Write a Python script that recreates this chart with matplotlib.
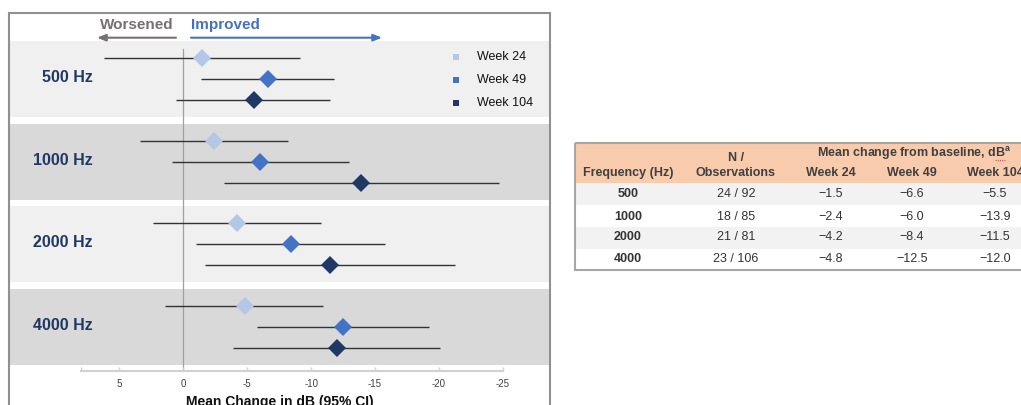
import matplotlib
matplotlib.use("Agg")
import matplotlib.pyplot as plt
from matplotlib.patches import Rectangle
from matplotlib.lines import Line2D

plt.rcParams['font.family'] = ['Liberation Sans', 'DejaVu Sans']
plt.rcParams['axes.unicode_minus'] = False
plt.rcParams['mathtext.fontset'] = 'custom'
plt.rcParams['mathtext.rm'] = 'Liberation Sans'
plt.rcParams['mathtext.bf'] = 'Liberation Sans:bold'

# data
freq_labels = ["500 Hz", "1000 Hz", "2000 Hz", "4000 Hz"]
frequencies = [500, 1000, 2000, 4000]
week_labels = ["Week 24", "Week 49", "Week 104"]
week_colors = ["#b4c7e7", "#4472c4", "#203864"]

week24 = [-1.5, -2.4, -4.2, -4.8]
week49 = [-6.6, -6.0, -8.4, -12.5]
week104 = [-5.5, -13.9, -11.5, -12.0]

week24_hi = [6.2, 3.4, 2.4, 1.4]
week24_lo = [-9.1, -8.2, -10.8, -10.9]
week49_hi = [-1.4, 0.9, -1.0, -5.8]
week49_lo = [-11.8, -13.0, -15.8, -19.2]
week104_hi = [0.6, -3.2, -1.7, -3.9]
week104_lo = [-11.5, -24.7, -21.3, -20.1]

n_patients = [24, 18, 21, 23]
n_obs = [92, 85, 81, 106]

x_ticks = [5, 0, -5, -10, -15, -20, -25]

means = [week24, week49, week104]
ci_hi = [week24_hi, week49_hi, week104_hi]
ci_lo = [week24_lo, week49_lo, week104_lo]

W, H = 1021, 405


def fx(x):
    return x / W


def fy(y):
    return 1 - y / H


fig = plt.figure(figsize=(W / 100, H / 100), dpi=100)

# outer panel frame
fig.add_artist(Rectangle((fx(9), fy(420)), (550 - 9) / W, (420 - 12.7) / H,
                         transform=fig.transFigure, fill=False,
                         edgecolor="#909090", lw=1.5))

ax = fig.add_axes([fx(9), fy(365), (549 - 9) / W, (365 - 41) / H])
ax.set_xlim(13.64, -28.62)
ax.set_ylim(3.458, -0.459)

band_colors = ["#f0f0f0", "#d9d9d9"]
for i in range(len(freq_labels)):
    ax.axhspan(i - 0.46, i + 0.46, color=band_colors[i % 2], lw=0, zorder=0)

ax.plot([0, 0], [-0.363, 3.53], color="#a0a0a0", lw=0.9, clip_on=False, zorder=1)

row_step = 0.254
for j in range(len(week_labels)):
    ys = [i + (j - 1) * row_step for i in range(len(freq_labels))]
    ax.hlines(ys, ci_lo[j], ci_hi[j], color="#333333", lw=1.0, zorder=2)
    ax.plot(means[j], ys, linestyle="none", marker="D", markersize=9.2,
            markeredgewidth=0, color=week_colors[j], zorder=3)

for i, lab in enumerate(freq_labels):
    ax.text(0.1556, i - 0.02, lab, transform=ax.get_yaxis_transform(),
            ha="right", va="center", fontsize=11.5, fontweight="bold",
            color="#1f3864")

for s in ["top", "right", "left"]:
    ax.spines[s].set_visible(False)
ax.spines["bottom"].set_position(("outward", 4.3))
ax.spines["bottom"].set_bounds(8, -25)
ax.spines["bottom"].set_color("#d0d0d0")
ax.spines["bottom"].set_linewidth(1.5)
ax.set_yticks([])
ax.set_xticks(x_ticks)
ax.set_xticklabels([str(t) for t in x_ticks])
ax.set_xticks([8], minor=True)
ax.tick_params(axis="x", which="both", direction="in", length=3, width=1,
               color="#d0d0d0", labelsize=7, labelcolor="#404040", pad=5.5)

fig.text(fx(280), fy(406), "Mean Change in dB (95% CI)", ha="center",
         va="baseline", fontsize=10, fontweight="bold", color="#111111")

# direction header
fig.text(fx(100), fy(25), "Worsened", ha="left", va="center", fontsize=11,
         fontweight="bold", color="#767171")
fig.text(fx(191), fy(25), "Improved", ha="left", va="center", fontsize=11,
         fontweight="bold", color="#4472c4")
fig.add_artist(plt.matplotlib.text.Annotation(
    "", xy=(fx(97), fy(37.7)), xytext=(fx(176), fy(37.7)),
    xycoords="figure fraction", textcoords="figure fraction",
    arrowprops=dict(arrowstyle="-|>,head_length=0.5,head_width=0.2",
                    color="#767171", lw=1.5, shrinkA=0, shrinkB=0)))
fig.add_artist(plt.matplotlib.text.Annotation(
    "", xy=(fx(382), fy(37.7)), xytext=(fx(191), fy(37.7)),
    xycoords="figure fraction", textcoords="figure fraction",
    arrowprops=dict(arrowstyle="-|>,head_length=0.5,head_width=0.2",
                    color="#4472c4", lw=1.5, shrinkA=0, shrinkB=0)))

# legend
for j, lab in enumerate(week_labels):
    yy = 57 + 23 * j
    fig.add_artist(Line2D([fx(456)], [fy(yy)], marker="s", markersize=4.8,
                          markeredgewidth=0, color=week_colors[j],
                          linestyle="none", transform=fig.transFigure))
    fig.text(fx(477), fy(yy), lab, ha="left", va="center", fontsize=9,
             color="#111111")

# table
tab = fig.add_axes([fx(560), fy(290), (W - 560) / W, 160 / H])
tab.set_xlim(560, W)
tab.set_ylim(290, 130)
tab.axis("off")

tab.add_patch(Rectangle((575, 142.7), 460, 183 - 142.7, color="#f8cbad", lw=0))
row_tops = [183, 205, 227, 248.5]
row_h = 21.8
for r, top in enumerate(row_tops):
    if r % 2 == 0:
        tab.add_patch(Rectangle((575, top), 460, row_h, color="#f2f2f2", lw=0))
tab.add_patch(Rectangle((575, 142.7), 470, 270 - 142.7, fill=False,
                        edgecolor="#a6a6a6", lw=1.5))

col_x = [628, 736, 831, 912, 995]
hdr = dict(ha="center", va="center", fontsize=9, fontweight="bold",
           color="#404040")
tab.text(col_x[0], 173, "Frequency (Hz)", **hdr)
tab.text(col_x[1], 158, "N /", **hdr)
tab.text(col_x[1], 173, "Observations", **hdr)
tab.text(col_x[3] + 2, 153, r"Mean change from baseline, dB$^{\mathbf{a}}$", **hdr)
# spell-check squiggle under "dB"
tab.plot([995, 1005], [159.5, 159.5], color="#e05050", lw=0.8, ls=(0, (1, 1)))
for j, lab in enumerate(week_labels):
    tab.text(col_x[2 + j], 173, lab, **hdr)

row_y = [194, 216.5, 237.5, 259]
for r in range(len(frequencies)):
    tab.text(col_x[0], row_y[r], str(frequencies[r]), ha="center", va="center",
             fontsize=9, fontweight="bold", color="#333333")
    tab.text(col_x[1], row_y[r], f"{n_patients[r]} / {n_obs[r]}", ha="center",
             va="center", fontsize=9, color="#333333")
    for j in range(len(week_labels)):
        tab.text(col_x[2 + j], row_y[r], f"{means[j][r]:.1f}".replace("-", "\u2212"),
                 ha="center", va="center", fontsize=9, color="#333333")

fig.savefig("out.png", dpi=100)
